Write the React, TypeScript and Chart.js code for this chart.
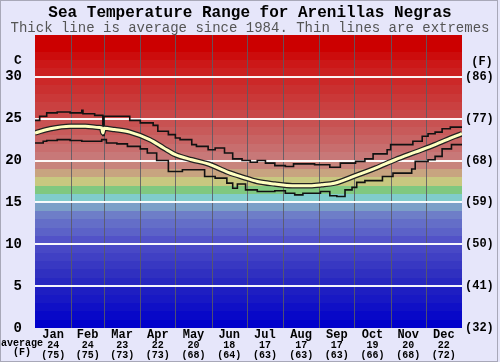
import React, { useEffect, useRef } from 'react';
import { Chart, registerables } from 'chart.js';
Chart.register(...registerables);

const TITLE = 'Sea Temperature Range for Arenillas Negras';
const SUBTITLE = 'Thick line is average since 1984. Thin lines are extremes';

const months = ['Jan', 'Feb', 'Mar', 'Apr', 'May', 'Jun', 'Jul', 'Aug', 'Sep', 'Oct', 'Nov', 'Dec'];
const monthStarts = [0, 31, 59, 90, 120, 151, 181, 212, 243, 273, 304, 334, 365];
const monthAvgC = ['24', '24', '23', '22', '20', '18', '17', '17', '17', '19', '20', '22'];
const monthAvgF = ['75', '75', '73', '73', '68', '64', '63', '63', '63', '66', '68', '72'];

const yTicksC = [0, 5, 10, 15, 20, 25, 30];

// day-of-year -> temperature (C)
const maxDays = [0, 4, 10, 19, 30, 40, 41, 51, 58, 59, 81, 90, 101, 105, 114, 120, 124, 134, 138, 148, 154, 162, 169, 177, 184, 190, 197, 205, 214, 221, 239, 252, 261, 274, 282, 289, 301, 304, 323, 331, 336, 342, 348, 355, 365];
const maxTemps = [24.8, 25.3, 25.7, 25.8, 25.7, 26.0, 25.6, 25.4, 23.0, 25.3, 24.8, 24.5, 24.2, 23.5, 23.1, 22.7, 22.5, 21.9, 21.7, 21.3, 21.5, 20.9, 20.2, 20.0, 19.8, 20.0, 19.7, 19.4, 19.3, 19.6, 19.5, 19.2, 19.7, 19.9, 20.2, 20.8, 21.3, 21.9, 22.3, 22.9, 23.2, 23.4, 23.8, 24.0, 24.0];

const minDays = [0, 7, 10, 19, 30, 40, 57, 61, 70, 79, 90, 96, 104, 114, 126, 145, 154, 164, 169, 173, 180, 190, 205, 214, 222, 229, 244, 252, 258, 265, 271, 275, 282, 297, 306, 322, 325, 336, 342, 348, 356, 365];
const minTemps = [22.1, 22.3, 22.4, 22.5, 22.4, 22.3, 22.5, 22.1, 22.0, 21.7, 21.4, 20.9, 20.0, 18.7, 18.9, 18.1, 17.9, 17.3, 16.7, 17.2, 16.5, 16.3, 16.4, 16.1, 15.9, 16.1, 16.3, 15.8, 15.7, 16.5, 16.8, 17.4, 17.6, 18.1, 18.5, 19.0, 19.9, 20.1, 20.5, 21.4, 21.9, 21.9];

const avgDays = [0, 13, 30, 43, 55, 57, 58, 59, 68, 81, 98, 110, 120, 134, 148, 165, 178, 190, 205, 220, 235, 245, 256, 274, 291, 308, 325, 342, 359, 365];
const avgTemps = [23.3, 23.8, 24.1, 24.1, 23.95, 23.9, 23.3, 23.85, 23.7, 23.4, 22.5, 21.5, 20.7, 20.1, 19.6, 18.6, 18.0, 17.5, 17.2, 17.0, 17.0, 17.1, 17.3, 18.2, 19.1, 20.1, 21.0, 21.9, 22.9, 23.2];

// background colour for each 1-degree band, from 0 C upwards
const bandColors = [
  'rgb(0,0,204)', 'rgb(8,8,200)', 'rgb(16,16,198)', 'rgb(24,24,196)', 'rgb(30,30,194)',
  'rgb(40,40,192)', 'rgb(48,48,192)', 'rgb(56,56,194)', 'rgb(64,64,196)', 'rgb(72,72,198)',
  'rgb(82,82,200)', 'rgb(92,98,200)', 'rgb(100,110,200)', 'rgb(110,126,200)', 'rgb(124,160,200)',
  'rgb(128,204,204)', 'rgb(128,200,128)', 'rgb(200,200,128)', 'rgb(200,164,128)', 'rgb(200,132,124)',
  'rgb(200,120,120)', 'rgb(200,110,110)', 'rgb(200,100,100)', 'rgb(200,90,90)', 'rgb(200,82,82)',
  'rgb(200,72,72)', 'rgb(202,64,64)', 'rgb(202,56,56)', 'rgb(202,48,48)', 'rgb(204,40,40)',
  'rgb(204,32,32)', 'rgb(204,24,24)', 'rgb(204,12,12)', 'rgb(204,0,0)', 'rgb(204,0,0)',
];

const FONT = "'Liberation Mono', 'Courier New', monospace";
const BG = '#e6e6fa';

const toPts = (xs: number[], ys: number[]) => xs.map((x, i) => ({ x, y: ys[i] }));
const monthCenters = months.map((_, i) => (monthStarts[i] + monthStarts[i + 1]) / 2);

const bgPlugin = {
  id: 'seaBg',
  beforeDraw(chart: any) {
    const { ctx, chartArea: a, scales } = chart;
    const y = scales.y;
    const x = scales.x;
    ctx.save();
    ctx.fillStyle = BG;
    ctx.fillRect(0, 0, chart.width, chart.height);
    ctx.strokeStyle = '#a8a8b8';
    ctx.lineWidth = 1;
    ctx.strokeRect(0.5, 0.5, chart.width - 3, chart.height - 1);
    for (let i = 0; i < bandColors.length; i++) {
      const top = Math.max(Math.round(y.getPixelForValue(i + 1)), a.top);
      const bot = Math.round(y.getPixelForValue(i));
      ctx.fillStyle = bandColors[i];
      ctx.fillRect(a.left, top, a.right - a.left, bot - top);
    }
    ctx.strokeStyle = 'rgba(90,90,100,0.85)';
    ctx.lineWidth = 1;
    for (let i = 1; i < monthStarts.length - 1; i++) {
      const px = Math.round(x.getPixelForValue(monthStarts[i])) + 0.5;
      ctx.beginPath();
      ctx.moveTo(px, a.top);
      ctx.lineTo(px, a.bottom);
      ctx.stroke();
    }
    ctx.fillStyle = '#000';
    ctx.textAlign = 'center';
    ctx.textBaseline = 'middle';
    ctx.font = `bold 13px ${FONT}`;
    ctx.fillText('C', 18, 61);
    ctx.font = `bold 12px ${FONT}`;
    ctx.fillText('(F)', 482, 62);
    ctx.font = `bold 10px ${FONT}`;
    ctx.fillText('average', 22, 343);
    ctx.fillText('(F)', 22, 352);
    ctx.restore();
  },
};

export default function App() {
  const ref = useRef<HTMLCanvasElement | null>(null);
  useEffect(() => {
    document.body.style.margin = '0';
    const canvas = ref.current;
    if (!canvas) return;
    const yTicks = (scale: any) => {
      scale.ticks = yTicksC.map((v) => ({ value: v }));
    };
    const xTicks = (scale: any) => {
      scale.ticks = monthCenters.map((v) => ({ value: v }));
    };
    const chart = new Chart(canvas, {
      type: 'line',
      data: {
        datasets: [
          {
            label: 'average',
            data: toPts(avgDays, avgTemps),
            borderColor: '#ffffc0',
            borderWidth: 3,
            pointRadius: 0,
            cubicInterpolationMode: 'monotone',
            fill: false,
            order: 0,
          },
          {
            label: 'avg outline',
            data: toPts(avgDays, avgTemps),
            borderColor: '#222',
            borderWidth: 5.5,
            pointRadius: 0,
            cubicInterpolationMode: 'monotone',
            fill: false,
            order: 1,
          },
          {
            label: 'max',
            data: toPts(maxDays, maxTemps),
            borderColor: '#111',
            borderWidth: 1.6,
            pointRadius: 0,
            stepped: 'before',
            fill: false,
            order: 2,
          },
          {
            label: 'min',
            data: toPts(minDays, minTemps),
            borderColor: '#111',
            borderWidth: 1.6,
            pointRadius: 0,
            stepped: 'before',
            fill: false,
            order: 2,
          },
        ],
      } as any,
      options: {
        responsive: false,
        animation: false,
        layout: { padding: 0 },
        plugins: {
          legend: { display: false },
          tooltip: { enabled: false },
          title: {
            display: true,
            text: TITLE,
            color: '#000',
            font: { family: FONT, size: 16, weight: 'bold', lineHeight: 1 },
            padding: { top: 5, bottom: 0 },
          },
          subtitle: {
            display: true,
            text: SUBTITLE,
            color: '#555',
            font: { family: FONT, size: 14, weight: 'normal', lineHeight: 1 },
            padding: { top: 0, bottom: 0 },
          },
        },
        scales: {
          x: {
            type: 'linear',
            position: 'bottom',
            min: 0,
            max: 365,
            weight: 0,
            grid: { display: false, drawTicks: false },
            border: { display: false },
            afterBuildTicks: xTicks,
            afterFit: (s: any) => { s.height = 13; },
            ticks: {
              autoSkip: false,
              maxRotation: 0,
              padding: 1,
              color: '#000',
              font: { family: FONT, size: 12, weight: 'bold', lineHeight: 1 },
              callback: (_v: any, i: number) => months[i],
            },
          },
          x2: {
            type: 'linear',
            position: 'bottom',
            min: 0,
            max: 365,
            weight: 1,
            grid: { display: false, drawTicks: false },
            border: { display: false },
            afterBuildTicks: xTicks,
            afterFit: (s: any) => { s.height = 21; },
            ticks: {
              autoSkip: false,
              maxRotation: 0,
              padding: 0,
              color: '#000',
              font: { family: FONT, size: 10, weight: 'bold', lineHeight: 0.96 },
              callback: (_v: any, i: number) => [monthAvgC[i], `(${monthAvgF[i]})`],
            },
          },
          y: {
            type: 'linear',
            position: 'left',
            min: 0,
            max: 35,
            afterBuildTicks: yTicks,
            afterFit: (s: any) => { s.width = 35; },
            border: { display: false },
            grid: {
              drawTicks: false,
              lineWidth: 2,
              color: (c: any) => (c.tick && c.tick.value === 0 ? 'rgba(0,0,0,0)' : 'rgba(255,255,255,0.95)'),
            },
            ticks: {
              padding: 13,
              color: '#000',
              font: { family: FONT, size: 14, weight: 'bold' },
            },
          },
          y2: {
            type: 'linear',
            position: 'right',
            min: 0,
            max: 35,
            afterBuildTicks: yTicks,
            afterFit: (s: any) => { s.width = 38; },
            border: { display: false },
            grid: { display: false, drawTicks: false },
            ticks: {
              padding: 3,
              color: '#000',
              font: { family: FONT, size: 12, weight: 'bold' },
              callback: (v: any) => `(${Math.round((Number(v) * 9) / 5 + 32)})`,
            },
          },
        },
      } as any,
      plugins: [bgPlugin],
    });
    return () => chart.destroy();
  }, []);
  return (
    <div style={{ width: 500, height: 362 }}>
      <canvas ref={ref} width={500} height={362} />
    </div>
  );
}
